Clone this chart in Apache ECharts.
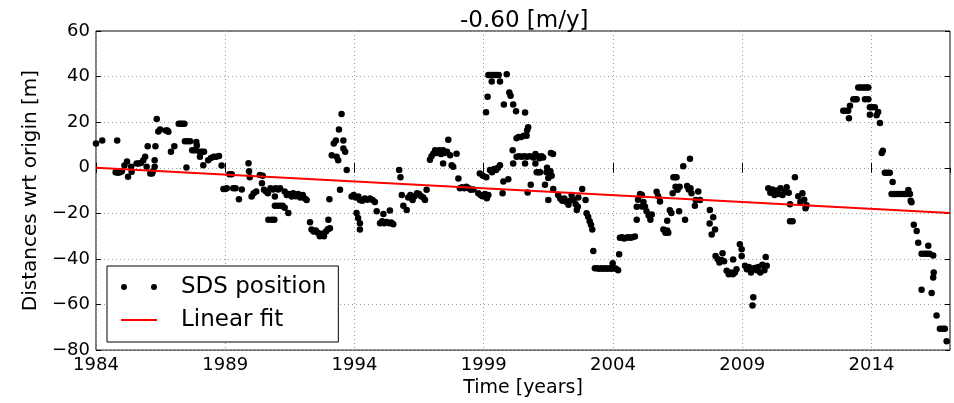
<!DOCTYPE html>
<html>
<head>
<meta charset="utf-8">
<script src="https://cdn.jsdelivr.net/npm/echarts@6/dist/echarts.min.js"></script>
<style>
html,body{margin:0;padding:0;background:#fff;}
#chart{width:954px;height:403px;}
</style>
</head>
<body>
<div id="chart"></div>
<script>
const years = [
1984.00,1984.24,1984.82,1984.76,1984.85,1984.93,1985.00,1985.10,1985.20,1985.24,
1985.36,1985.38,1985.57,1985.65,1985.74,1985.83,1985.90,1985.96,1986.00,1986.10,
1986.17,1986.20,1986.27,1986.27,1986.30,1986.35,1986.41,1986.48,1986.70,1986.76,
1986.80,1986.90,1987.03,1987.20,1987.27,1987.34,1987.42,1987.50,1987.44,1987.54,
1987.64,1987.72,1987.80,1987.87,1987.88,1987.90,1988.02,1988.10,1988.18,1988.02,
1988.15,1988.34,1988.45,1988.55,1988.65,1988.76,1988.86,1988.93,1989.00,1989.06,
1989.16,1989.25,1989.31,1989.40,1989.53,1989.64,1989.90,1989.92,1989.95,1990.02,
1990.10,1990.20,1990.34,1990.45,1990.42,1990.50,1990.58,1990.65,1990.67,1990.80,
1990.90,1990.75,1990.85,1990.95,1991.05,1991.12,1990.92,1990.92,1991.02,1991.12,
1991.22,1991.30,1991.44,1991.30,1991.38,1991.47,1991.57,1991.63,1991.72,1991.82,
1991.90,1992.00,1992.08,1992.15,1992.28,1992.34,1992.42,1992.50,1992.58,1992.66,
1992.74,1992.82,1992.90,1992.97,1993.05,1992.99,1993.03,1993.12,1993.20,1993.28,
1993.31,1993.37,1993.40,1993.50,1993.44,1993.57,1993.57,1993.64,1993.70,1993.89,
1993.97,1994.05,1994.15,1994.08,1994.14,1994.21,1994.21,1994.21,1994.30,1994.40,
1994.50,1994.60,1994.70,1994.79,1994.86,1994.99,1995.07,1995.15,1995.25,1995.35,
1995.42,1995.50,1995.12,1995.37,1995.73,1995.78,1995.83,1995.89,1996.02,1996.08,
1996.16,1996.25,1996.33,1996.42,1996.50,1996.58,1996.66,1996.73,1996.79,1996.92,
1996.98,1997.05,1997.12,1997.20,1997.28,1997.35,1997.43,1997.50,1997.58,1997.63,
1997.43,1997.70,1997.76,1997.82,1997.95,1998.02,1998.08,1998.16,1998.25,1998.33,
1998.42,1998.50,1998.60,1998.79,1998.88,1998.95,1999.05,1999.12,1999.18,1998.85,
1998.97,1999.10,1999.09,1999.15,1999.18,1999.26,1999.34,1999.42,1999.50,1999.58,
1999.31,1999.63,1999.24,1999.32,1999.40,1999.48,1999.55,1999.63,1999.73,1999.76,
1999.95,1999.89,1999.99,2000.04,1999.78,2000.14,2000.25,2000.60,2000.12,2000.14,
2000.27,2000.35,2000.45,2000.55,2000.66,2000.72,2000.68,2000.27,2000.37,2000.47,
2000.57,2000.67,2000.78,2000.60,2000.70,2000.82,2000.92,2001.00,2001.08,2001.16,
2001.24,2001.30,2001.00,2001.05,2001.12,2001.18,2001.43,2001.45,2001.50,2001.58,
2001.63,2001.50,2001.37,2001.69,2001.60,2001.68,2001.88,2001.96,2002.04,2002.12,
2002.20,2002.28,2002.34,2002.40,2002.48,2002.56,2002.64,2002.60,2002.66,2002.81,
2002.94,2002.98,2003.04,2003.10,2003.15,2003.20,2003.24,2003.30,2003.38,2003.46,
2003.54,2003.62,2003.70,2003.78,2003.86,2003.94,2003.99,2004.04,2004.12,2004.20,
2004.24,2004.27,2004.35,2004.43,2004.51,2004.59,2004.67,2004.75,2004.85,2004.92,
2004.92,2004.97,2005.05,2005.12,2005.18,2005.24,2005.12,2005.30,2005.38,2005.45,
2005.50,2005.69,2005.75,2005.82,2005.95,2006.03,2006.10,2006.14,2006.10,2006.20,
2006.26,2006.31,2006.34,2006.40,2006.46,2006.42,2006.50,2006.58,2006.56,2006.72,
2006.79,2006.87,2006.93,2006.98,2007.04,2007.00,2007.17,2007.20,2007.30,2007.37,
2007.75,2007.74,2007.82,2007.88,2007.95,2007.97,2008.05,2008.12,2008.20,2008.24,
2008.30,2008.40,2008.48,2008.56,2008.64,2008.72,2008.65,2008.78,2008.91,2008.98,
2008.98,2009.11,2009.18,2009.26,2009.34,2009.43,2009.40,2009.48,2009.56,2009.62,
2009.70,2009.78,2009.86,2009.91,2009.95,2010.01,2010.09,2010.17,2010.25,2010.33,
2010.41,2010.48,2010.56,2010.64,2010.72,2010.80,2010.85,2010.85,2010.95,2011.04,
2011.17,2011.25,2011.33,2011.40,2011.45,2011.49,
2012.91,2013.00,2013.10,2013.13,2013.17,2013.30,2013.37,2013.43,2013.49,2013.57,
2013.65,2013.73,2013.81,2013.88,2013.75,2013.88,2013.94,2014.03,2014.13,2013.94,
2014.20,2014.26,2014.33,2014.40,2014.44,2014.52,2014.60,2014.71,2014.82,2014.78,
2014.88,2014.98,2015.08,2015.18,2015.28,2015.38,2015.49,2015.43,2015.55,2015.52,
2015.64,2015.75,2015.81,2015.94,2016.05,2016.15,2016.25,2016.39,2016.20,2016.39,
2016.41,2015.94,2016.33,2016.52,2016.65,2016.75,2016.84,2016.91
];
const distances = [
10.6,12.0,12.0,-2.0,-2.2,-2.0,-1.5,1.0,2.7,-4.0,
0.4,-1.7,1.9,1.9,2.1,3.3,4.8,0.4,9.4,-2.5,
-2.5,-1.5,3.3,0.4,9.4,21.4,15.9,16.8,16.3,16.3,
15.8,7.0,9.4,19.3,19.3,19.3,19.3,0.1,11.6,11.6,
11.6,7.7,7.7,7.7,11.3,9.8,7.0,7.0,7.0,4.8,
1.1,3.3,4.3,4.8,4.8,5.2,1.0,-9.3,-9.3,-9.0,
-2.8,-2.8,-9.0,-9.0,-13.8,-9.5,2.0,-1.5,-4.2,-12.6,
-11.2,-10.4,-3.2,-3.5,-6.8,-9.7,-10.4,-11.2,-22.8,-22.8,
-22.8,-9.0,-9.5,-9.0,-9.5,-9.0,-12.6,-16.7,-16.7,-16.7,
-16.7,-17.5,-19.9,-10.4,-12.0,-11.5,-12.6,-11.2,-12.5,-11.5,
-13.0,-12.0,-13.5,-14.1,-23.9,-27.1,-28.0,-27.5,-28.5,-30.0,
-29.0,-30.0,-28.0,-27.0,-26.5,-22.8,-13.8,5.5,10.6,12.0,
4.8,3.3,16.8,23.6,-9.7,12.0,8.4,7.0,-1.0,-12.6,
-12.0,-13.0,-12.6,-19.9,-22.0,-24.3,-27.1,-14.1,-14.5,-13.5,
-14.0,-13.5,-14.1,-15.0,-19.1,-24.3,-23.5,-24.3,-23.8,-24.3,
-24.0,-24.8,-20.3,-18.8,-1.0,-4.2,-11.9,-16.7,-18.5,-13.0,
-12.0,-14.1,-12.5,-11.2,-11.5,-12.5,-13.0,-14.1,-9.7,3.5,
5.0,6.2,7.7,6.5,7.7,6.0,7.7,6.5,7.0,12.3,
1.9,5.5,1.1,0.4,6.2,-4.7,-9.0,-8.5,-9.0,-8.3,
-9.0,-9.7,-9.5,-11.2,-12.0,-12.5,-11.5,-13.4,-12.0,-2.5,
-3.5,-4.2,24.3,31.1,40.7,40.7,40.7,40.7,40.7,40.7,
37.8,37.8,-1.0,-2.0,-0.5,-1.0,0.0,1.1,-11.2,-6.0,
-5.0,41.0,33.0,31.6,27.7,27.7,24.8,24.2,7.7,1.9,
13.0,13.5,13.5,14.0,14.0,17.8,16.5,4.8,5.0,4.8,
5.0,4.8,5.0,1.9,-10.9,-7.5,4.5,6.0,5.0,4.2,
5.0,4.5,1.9,-2.0,-2.0,-2.0,-2.0,0.0,-4.5,-1.5,
-3.5,-14.1,-7.5,-9.3,6.5,6.0,-12.0,-13.5,-14.5,-13.5,
-15.0,-16.2,-14.5,-12.0,-14.0,-16.0,-17.1,-18.5,-13.0,-9.3,
-14.1,-20.0,-21.5,-23.5,-25.0,-27.1,-36.5,-44.1,-44.1,-44.3,
-44.1,-44.3,-44.1,-44.3,-44.1,-44.3,-41.9,-44.1,-44.3,-45.0,
-38.0,-30.7,-30.5,-31.0,-30.7,-30.5,-30.7,-30.5,-30.2,-22.8,
-17.1,-14.0,-11.5,-12.0,-15.0,-17.1,-17.0,-19.1,-21.0,-22.8,
-20.5,-10.5,-12.5,-14.8,-27.1,-28.5,-27.5,-28.5,-23.3,-18.6,
-19.9,-11.2,-4.2,-4.2,-4.2,-8.3,-9.7,-8.3,-19.1,0.7,
-22.8,-8.0,-9.5,4.0,-11.2,-9.0,-16.7,-14.1,-10.4,-14.1,
-18.5,-24.5,-29.3,-21.7,-27.1,-38.7,-40.0,-41.6,-40.5,-37.5,
-41.0,-45.2,-46.7,-46.0,-46.7,-46.0,-40.2,-44.5,-33.6,-35.8,
-38.7,-43.0,-44.5,-43.5,-45.9,-56.8,-60.4,-44.0,-45.0,-43.5,
-45.9,-42.5,-45.0,-39.2,-43.0,-9.0,-11.0,-9.5,-12.0,-10.0,
-11.5,-9.0,-12.0,-10.5,-8.5,-11.0,-16.0,-23.5,-23.5,-4.2,
-12.5,-15.0,-11.2,-14.0,-17.8,-16.5,
25.0,25.0,25.0,21.7,27.2,30.1,30.1,30.1,35.2,35.2,
35.2,35.2,35.2,35.2,30.1,30.1,26.5,26.5,26.5,23.3,
23.0,24.5,19.6,6.5,7.5,-2.2,-2.2,-2.2,-6.3,-11.5,
-11.5,-11.5,-11.5,-11.5,-11.5,-11.5,-11.5,-9.8,-15.1,-14.5,
-25.0,-27.8,-32.9,-37.7,-37.7,-37.7,-37.7,-38.5,-34.2,-48.1,
-46.0,-53.5,-55.0,-64.8,-70.6,-70.6,-70.6,-76.1
];
const fitYears = [1984.0, 2017.04];
const fitValues = [0.0, -19.82];

const seriesNames = ['SDS position', 'Linear fit'];
const titleText = '-0.60 [m/y]';
const xTitle = 'Time [years]';
const yTitle = 'Distances wrt origin [m]';

const xMin = 1984, xMax = 2017.04, xStep = 5;
const yMin = -80, yMax = 60, yStep = 20;

const points = years.map((y, i) => [y, distances[i]]);
const fitLine = fitYears.map((y, i) => [y, fitValues[i]]);

const FONT = 'DejaVu Sans';
const gridLine = {show: true, lineStyle: {color: '#9a9a9a', type: [1, 3], width: 1}};
const tickStyle = {show: true, inside: true, length: 5, lineStyle: {color: '#000', width: 1}};

const xFmt = v => (Math.abs((v - xMin) % xStep) < 1e-6 ? String(Math.round(v)) : '');
const yFmt = v => (v < 0 ? '\u2212' + Math.abs(v) : String(v));

const chart = echarts.init(document.getElementById('chart'), null, {renderer: 'canvas'});
chart.setOption({
  animation: false,
  backgroundColor: '#fff',
  textStyle: {fontFamily: FONT},
  title: {
    text: titleText, left: 455, top: 5,
    textStyle: {fontFamily: FONT, fontSize: 23, fontWeight: 'normal', color: '#000'}
  },
  grid: {left: 96, right: 4, top: 31, bottom: 50, show: true, borderColor: '#000', borderWidth: 1, backgroundColor: 'transparent'},
  legend: {
    left: 107, top: 266, orient: 'vertical',
    padding: [8, 12, 9, 14],
    itemGap: 7, itemWidth: 36, itemHeight: 6,
    borderColor: '#000', borderWidth: 1, backgroundColor: '#fff',
    textStyle: {fontFamily: FONT, fontSize: 23, color: '#000', padding: [0, 0, 0, 19], lineHeight: 26},
    data: [
      {name: seriesNames[0], icon: 'path://M0,3a3,3 0 1,0 6,0a3,3 0 1,0 -6,0z M30,3a3,3 0 1,0 6,0a3,3 0 1,0 -6,0z'},
      {name: seriesNames[1], icon: 'path://M0,0L0.01,0L0,0.01Z M0,2.1L36,2.1L36,3.9L0,3.9Z M36,6L35.99,6L36,5.99Z', itemStyle: {color: '#ff0000'}}
    ]
  },
  xAxis: [{
    type: 'value', min: xMin, max: xMax, interval: xStep,
    axisLine: {show: false}, axisTick: tickStyle,
    axisLabel: {fontFamily: FONT, fontSize: 18, color: '#000', margin: 6, showMaxLabel: false, formatter: xFmt},
    splitLine: gridLine,
    name: xTitle, nameLocation: 'middle', nameGap: 28,
    nameTextStyle: {fontFamily: FONT, fontSize: 19, color: '#000'}
  }, {
    type: 'value', position: 'top', min: xMin, max: xMax, interval: xStep,
    axisLine: {show: false}, axisTick: tickStyle, axisLabel: {show: false}, splitLine: {show: false}
  }],
  yAxis: [{
    type: 'value', min: yMin, max: yMax, interval: yStep,
    axisLine: {show: false}, axisTick: tickStyle,
    axisLabel: {fontFamily: FONT, fontSize: 18, color: '#000', margin: 6, formatter: yFmt},
    splitLine: gridLine,
    name: yTitle, nameLocation: 'middle', nameGap: 51,
    nameTextStyle: {fontFamily: FONT, fontSize: 20, color: '#000'}
  }, {
    type: 'value', position: 'right', min: yMin, max: yMax, interval: yStep,
    axisLine: {show: false}, axisTick: tickStyle, axisLabel: {show: false}, splitLine: {show: false}
  }],
  series: [{
    name: seriesNames[0], type: 'scatter', data: points,
    symbol: 'circle', symbolSize: 6.5,
    itemStyle: {color: '#000', opacity: 1}
  }, {
    name: seriesNames[1], type: 'line', data: fitLine,
    symbol: 'none', showSymbol: false,
    lineStyle: {color: '#ff0000', width: 2},
    itemStyle: {color: '#ff0000'}
  }]
});
</script>
</body>
</html>
